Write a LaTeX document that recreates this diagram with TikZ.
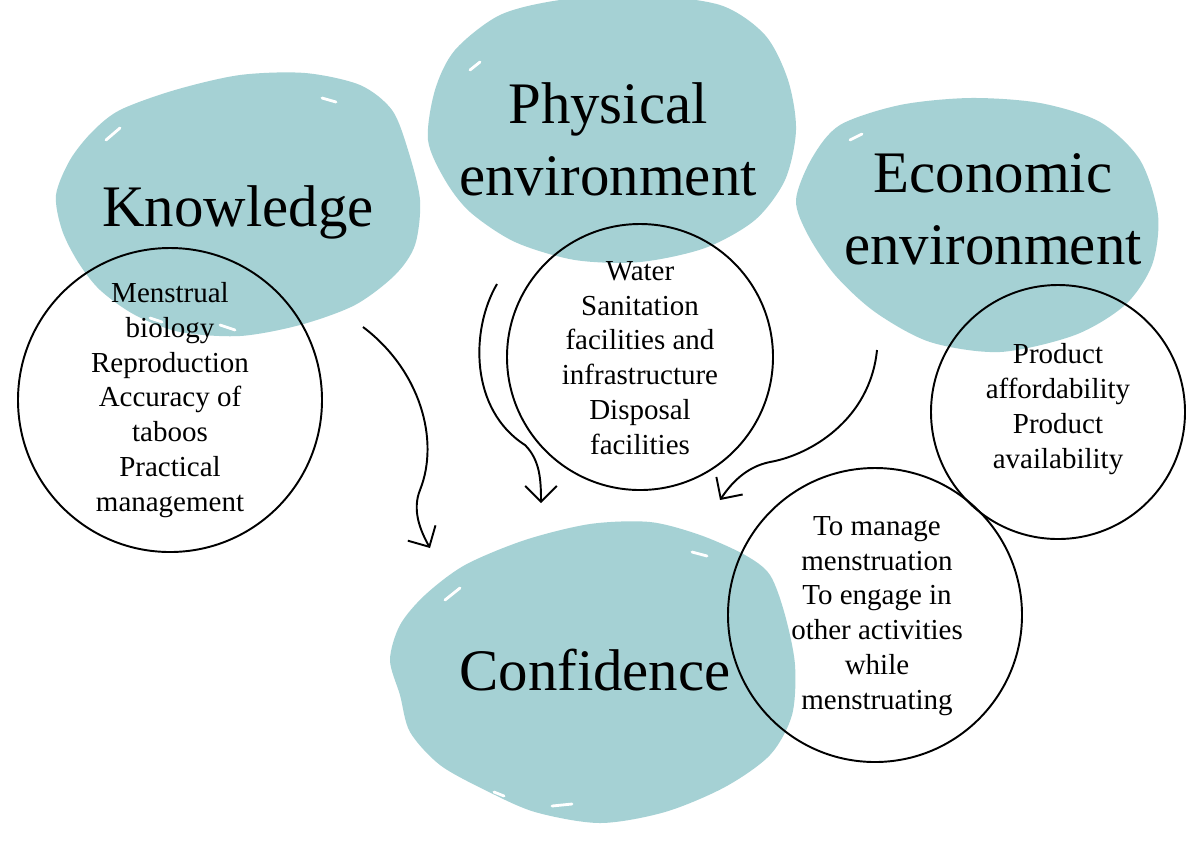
\documentclass[tikz,border=0pt]{standalone}
\usepackage{fontspec}
\setmainfont{Liberation Serif}
\usetikzlibrary{arrows.meta}
\definecolor{blobteal}{HTML}{A5D1D4}
\tikzset{
  blob/.style={fill=blobteal, draw=none},
  streak/.style={draw=white, line width=1.6pt, line cap=round},
  ring/.style={draw=black, line width=1.1pt},
  bigtext/.style={font=\fontsize{33.5}{41}\selectfont, align=center, inner sep=0pt},
  listtext/.style={font=\fontsize{16.5}{19.85}\selectfont, align=center, inner sep=0pt},
  flowarrow/.style={draw=black, line width=1.1pt, -{Straight Barb[length=9pt,width=18pt,line width=1.1pt]}}
}
\begin{document}
\begin{tikzpicture}[x=0.02cm,y=-0.02cm]
\useasboundingbox (0,0) rectangle (1200,840);
\fill[white] (0,0) rectangle (1200,840);

% blobs
\fill[blob] plot[smooth cycle, tension=0.5] coordinates {
 (120,110) (175,90) (240,75) (305,73) (360,85) (392,110) (408,150) (420,200) (415,245)
 (395,275) (355,305) (300,325) (240,336) (180,332) (135,315) (100,290) (78,262)
 (62,230) (56,195) (70,160) (92,132)};
\fill[blob] plot[smooth cycle, tension=0.5] coordinates {
 (455,50) (500,15) (560,0) (640,-5) (720,5) (765,35) (788,80) (796,130) (785,180)
 (755,220) (705,248) (640,262) (575,260) (515,242) (470,212) (445,180) (428,140) (435,90)};
\fill[blob] plot[smooth cycle, tension=0.5] coordinates {
 (840,125) (900,105) (970,98) (1040,103) (1100,122) (1140,160) (1158,215) (1152,265)
 (1125,305) (1075,335) (1000,352) (930,342) (875,312) (835,275) (808,235) (796,200) (812,158)};
\fill[blob] plot[smooth cycle, tension=0.5] coordinates {
 (465,565) (525,540) (590,524) (650,522) (700,535) (745,555) (770,575) (785,615)
 (795,665) (792,715) (770,755) (725,787) (665,812) (600,823) (535,812) (485,790)
 (440,765) (410,732) (400,695) (390,660) (400,625) (425,595)};

% streaks
\draw[streak] (106,140) -- (120,128);
\draw[streak] (322,98) -- (336,102);
\draw[streak] (150,318) -- (162,322);
\draw[streak] (220,325) -- (235,330);
\draw[streak] (445,600) -- (460,588);
\draw[streak] (692,552) -- (707,556);
\draw[streak] (552,806) -- (572,804);
\draw[streak] (494,792) -- (504,796);
\draw[streak] (470,70) -- (480,62);
\draw[streak] (850,140) -- (862,134);

% big labels
\node[bigtext, anchor=base] (know) at (238,226) {Knowledge};
\node[bigtext] (phys) at (608,139) {Physical\\environment};
\node[bigtext] (econ) at (993,209) {Economic\\environment};
\node[bigtext, anchor=base] (conf) at (595,690) {Confidence};

% circles
\draw[ring] (170,400) circle (152);
\draw[ring] (640,357) circle (133);
\draw[ring] (1058,412) circle (127);
\draw[ring] (875,615) circle (147);

% lists
\node[listtext] (knowlist) at (170,400) {Menstrual\\biology\\Reproduction\\Accuracy of\\taboos\\Practical\\management};
\node[listtext] (physlist) at (640,358) {Water\\Sanitation\\facilities and\\infrastructure\\Disposal\\facilities};
\node[listtext] (econlist) at (1058,409) {Product\\affordability\\Product\\availability};
\node[listtext] (conflist) at (877,616) {To manage\\menstruation\\To engage in\\other activities\\while\\menstruating};

% arrows
\coordinate (a1s) at (363,327);
\coordinate (a1m) at (420,490);
\coordinate (a1e) at (430,548);
\coordinate (a2s) at (497,284);
\coordinate (a2m) at (525,445);
\coordinate (a2e) at (541,503);
\coordinate (a3s) at (877,350);
\coordinate (a3m) at (770,462);
\coordinate (a3e) at (720,500);
\draw[flowarrow] (a1s) .. controls (420,370) and (440,440) .. (a1m) .. controls (412,510) and (420,530) .. (a1e);
\draw[flowarrow] (a2s) .. controls (470,330) and (470,410) .. (a2m) .. controls (540,460) and (541,480) .. (a2e);
\draw[flowarrow] (a3s) .. controls (870,420) and (810,455) .. (a3m) .. controls (745,467) and (730,485) .. (a3e);
\end{tikzpicture}
\end{document}
